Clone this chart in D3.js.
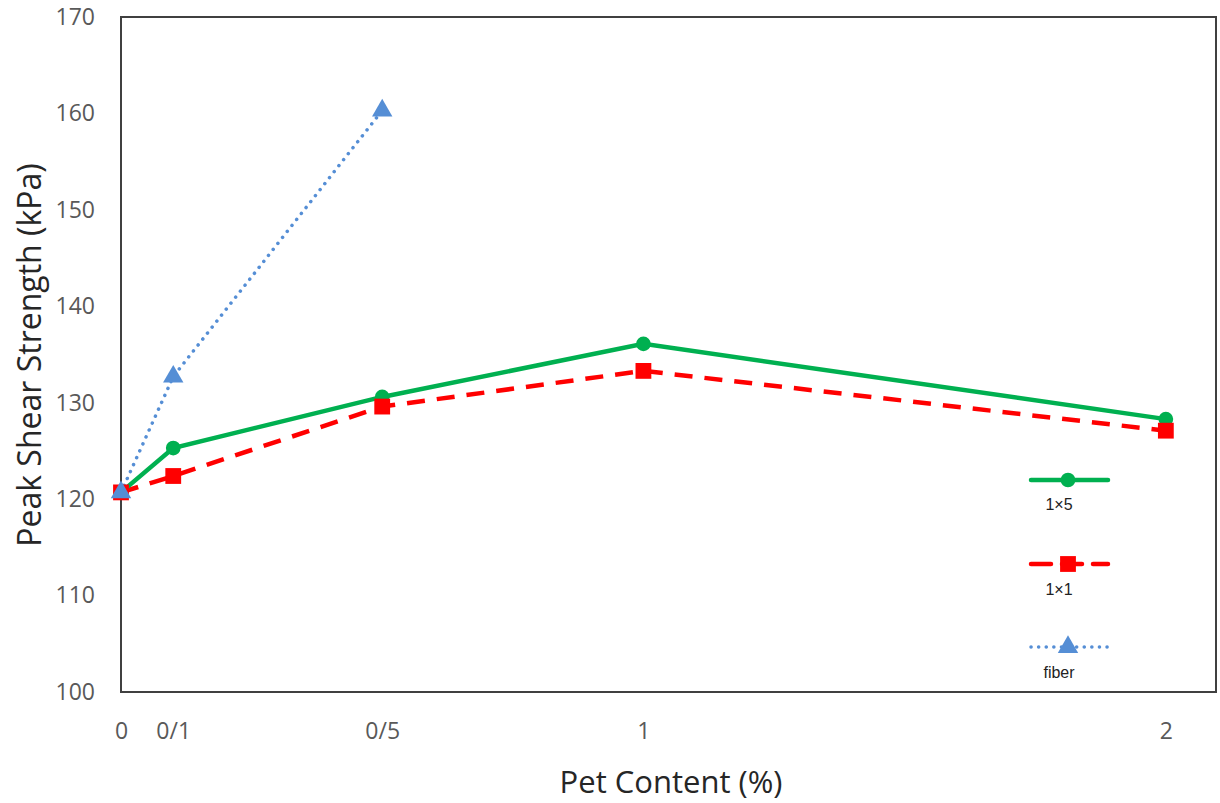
<!DOCTYPE html>
<html><head><meta charset="utf-8">
<script src="https://cdn.jsdelivr.net/npm/d3@7"></script>
<style>body{margin:0;background:#fff}svg{display:block}</style>
</head><body>
<svg id="c" width="1220" height="803"></svg>
<script>
const xValues = [0, 0.1, 0.5, 1, 2];
const xTickLabels = ["0", "0/1", "0/5", "1", "2"];
const yTicks = [100, 110, 120, 130, 140, 150, 160, 170];
const series1x5 = [120.7, 125.3, 130.6, 136.1, 128.3];
const series1x1 = [120.7, 122.4, 129.6, 133.3, 127.1];
const seriesFiber = [120.7, 132.7, 160.3];
const seriesNames = ["1×5", "1×1", "fiber"];

const svg = d3.select("#c");
const L = 121, R = 1216, T = 17, B = 692;
const x = d3.scaleLinear().domain([0, 2.096]).range([L, R]);
const y = d3.scaleLinear().domain([100, 170]).range([B, T]);

// frame
svg.append("rect").attr("x", L).attr("y", T).attr("width", R - L).attr("height", B - T)
  .attr("fill", "none").attr("stroke", "#404040").attr("stroke-width", 2);

// y axis labels
const yAxis = d3.axisLeft(y).tickValues(yTicks).tickSize(0).tickPadding(26).tickFormat(d3.format("d"));
const gy = svg.append("g").attr("transform", `translate(${L},0)`).call(yAxis);
gy.select(".domain").remove();
gy.selectAll("text").attr("font-family", "'Open Sans', sans-serif").attr("font-size", 23).attr("fill", "#595959");

// x axis labels
const xAxis = d3.axisBottom(x).tickValues(xValues).tickSize(0).tickPadding(31)
  .tickFormat((d, i) => xTickLabels[i]);
const gx = svg.append("g").attr("transform", `translate(0,${B})`).call(xAxis);
gx.select(".domain").remove();
gx.selectAll("text").attr("font-family", "'Open Sans', sans-serif").attr("font-size", 23).attr("fill", "#595959");

// titles
svg.append("text").attr("x", 671).attr("y", 793).attr("text-anchor", "middle")
  .attr("font-family", "'Open Sans', sans-serif").attr("font-size", 31).attr("fill", "#262626")
  .text("Pet Content (%)");
svg.append("text").attr("transform", "translate(41,355) rotate(-90)").attr("text-anchor", "middle")
  .attr("font-family", "'Open Sans', sans-serif").attr("font-size", 32).attr("fill", "#262626")
  .text("Peak Shear Strength (kPa)");

const line = d3.line().x(d => x(d[0])).y(d => y(d[1]));
const green = "#00B050", red = "#FF0000", blue = "#558ED5";

const d5 = xValues.map((v, i) => [v, series1x5[i]]);
const d1 = xValues.map((v, i) => [v, series1x1[i]]);
const df = seriesFiber.map((v, i) => [xValues[i], v]);

svg.append("path").datum(df).attr("d", line).attr("fill", "none").attr("stroke", blue)
  .attr("stroke-width", 3.5).attr("stroke-linecap", "round").attr("stroke-dasharray", "0.1,7.5");
svg.append("path").datum(d1).attr("d", line).attr("fill", "none").attr("stroke", red)
  .attr("stroke-width", 4.5).attr("stroke-dasharray", "18,12");
svg.append("path").datum(d5).attr("d", line).attr("fill", "none").attr("stroke", green)
  .attr("stroke-width", 4.5);

const sym = (type, size) => d3.symbol().type(type).size(size)();
function markers(data, type, size, color) {
  svg.append("g").selectAll("path").data(data).join("path")
    .attr("transform", d => `translate(${x(d[0])},${y(d[1])})`)
    .attr("d", sym(type, size)).attr("fill", color);
}
markers(d5, d3.symbolCircle, 170, green);
markers(d1, d3.symbolSquare, 250, red);
markers(df, d3.symbolTriangle, 180, blue);

// legend
const lg = [
  {name: seriesNames[0], color: green, y: 480, ty: 510, dash: null, w: 4.5, type: d3.symbolCircle, size: 170},
  {name: seriesNames[1], color: red, y: 564, ty: 595, dash: "20,11", w: 4.5, type: d3.symbolSquare, size: 250},
  {name: seriesNames[2], color: blue, y: 647, ty: 678, dash: "0.1,7.5", w: 3.5, type: d3.symbolTriangle, size: 180}
];
lg.forEach(o => {
  const p = svg.append("line").attr("x1", 1031).attr("x2", 1108).attr("y1", o.y).attr("y2", o.y)
    .attr("stroke", o.color).attr("stroke-width", o.w).attr("stroke-linecap", "round");
  if (o.dash) p.attr("stroke-dasharray", o.dash);
  svg.append("path").attr("transform", `translate(1068,${o.y})`).attr("d", sym(o.type, o.size)).attr("fill", o.color);
  svg.append("text").attr("x", 1059).attr("y", o.ty).attr("text-anchor", "middle")
    .attr("font-family", "'Liberation Sans', Arial, sans-serif").attr("font-size", 16).attr("fill", "#222")
    .text(o.name);
});
</script>
</body></html>
